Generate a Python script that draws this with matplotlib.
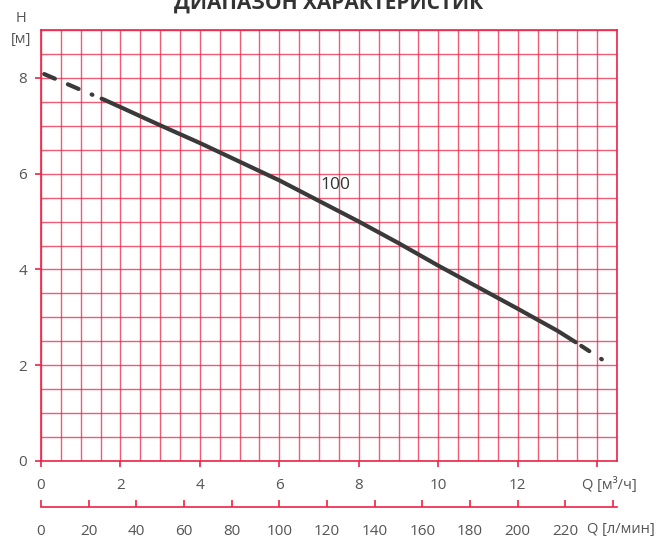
import matplotlib
matplotlib.use('Agg')
import matplotlib.pyplot as plt  # for plotting
from matplotlib.ticker import MultipleLocator, FixedLocator
import numpy as np

plt.rcParams['font.family'] = ['Open Sans', 'DejaVu Sans']

# Curve data (Q in m3/h, H in m)
flow_m3h = [0.08, 1.0, 1.6, 2.0, 3.0, 4.0, 5.0, 6.0, 7.0, 8.0, 9.0, 10.0, 11.0,
            12.0, 13.0, 13.46, 14.16]
head_m = [8.08, 7.75, 7.54, 7.39, 7.01, 6.64, 6.25, 5.86, 5.43, 5.0, 4.55, 4.08, 3.63,
          3.18, 2.72, 2.48, 2.1]
dash_start = 1.6    # dashed part ends here
dash_end = 13.46    # dashed part starts here
curve_label = '100'

x_ticks_m3h = [0, 2, 4, 6, 8, 10, 12]
x_ticks_lmin = [0, 20, 40, 60, 80, 100, 120, 140, 160, 180, 200, 220]
y_ticks = [0, 2, 4, 6, 8]

title = 'ДИАПАЗОН ХАРАКТЕРИСТИК'
red = '#ec2447'
grey = '#555555'
dark = '#3a3a3a'

W, H = 658, 539
fig = plt.figure(figsize=(W / 100, H / 100), dpi=100)

# main grid axes
left, right, top, bottom = 41, 617, 30, 461
ax = fig.add_axes([left / W, 1 - bottom / H, (right - left) / W, (bottom - top) / H])
ax.set_xlim(0, 14.5)
ax.set_ylim(0, 9)
ax.xaxis.set_major_locator(FixedLocator(x_ticks_m3h + [14]))
ax.set_xticklabels([str(v) for v in x_ticks_m3h] + [''])
ax.yaxis.set_major_locator(FixedLocator(y_ticks))
ax.xaxis.set_minor_locator(MultipleLocator(0.5))
ax.yaxis.set_minor_locator(MultipleLocator(0.5))
ax.grid(which='both', color=red, linewidth=1.0, alpha=0.75)
ax.set_axisbelow(True)
for s in ax.spines.values():
    s.set_color(red)
    s.set_linewidth(1.2)
ax.tick_params(which='major', length=4, width=1.2, color=red, labelcolor=grey, labelsize=11)
ax.tick_params(axis='x', which='major', pad=8)
ax.tick_params(axis='y', which='major', pad=6)
ax.tick_params(which='minor', length=0)

# curve: dashed head, solid body, dashed tail
q = np.array(flow_m3h)
h = np.array(head_m)
head_part = q <= dash_start
body_part = (q >= dash_start) & (q <= dash_end)
tail_part = q >= dash_end
ax.plot(q[head_part], h[head_part], color=dark, lw=3, dash_capstyle='round',
        linestyle=(0, (2.8, 3.4, 2.8, 3.4, 0.2, 2.4)))
ax.plot(q[body_part], h[body_part], color=dark, lw=3, solid_capstyle='round')
ax.plot(q[tail_part], h[tail_part], color=dark, lw=3, dash_capstyle='round',
        linestyle=(-1.6, (2.3, 3.4, 0.2, 5)))
ax.text(7.4, 5.76, curve_label, fontsize=12.5, color='#333333', ha='center', va='center')

# unit label for the upper x axis
ax.annotate('Q [м³/ч]', xy=(13.61, 0), xycoords=('data', 'axes fraction'),
            xytext=(0, -17), textcoords='offset points', ha='left', va='center',
            fontsize=10.5, color=grey)

# second x scale in l/min
ax2 = fig.add_axes([left / W, 1 - 507 / H, (right - left) / W, 0.0001])
ax2.set_xlim(0, 14.5 * 1000 / 60)
ax2.set_yticks([])
for name, s in ax2.spines.items():
    s.set_visible(name == 'bottom')
ax2.spines['bottom'].set_color(red)
ax2.spines['bottom'].set_linewidth(1.2)
ax2.xaxis.set_major_locator(FixedLocator(x_ticks_lmin + [240]))
ax2.set_xticklabels([str(v) for v in x_ticks_lmin] + [''])
ax2.tick_params(axis='x', direction='in', length=5, width=1.2, color=red,
                labelcolor=grey, labelsize=11, pad=12)
ax2.patch.set_visible(False)
ax2.annotate('Q [л/мин]', xy=(229, 0), xycoords=('data', 'axes fraction'),
             xytext=(0, -16.5), textcoords='offset points', ha='left', va='center',
             fontsize=10.5, color=grey)

# y axis label and title
fig.text(21 / W, 1 - 19 / H, 'H', ha='center', va='center', fontsize=10.5, color=grey)
fig.text(21 / W, 1 - 40 / H, '[м]', ha='center', va='center', fontsize=10.5, color=grey)
fig.text(0.5, 1 - 9 / H, title, ha='center', va='baseline', fontsize=15,
         fontweight='bold', color='#333333')

fig.savefig('out.png', dpi=100)
